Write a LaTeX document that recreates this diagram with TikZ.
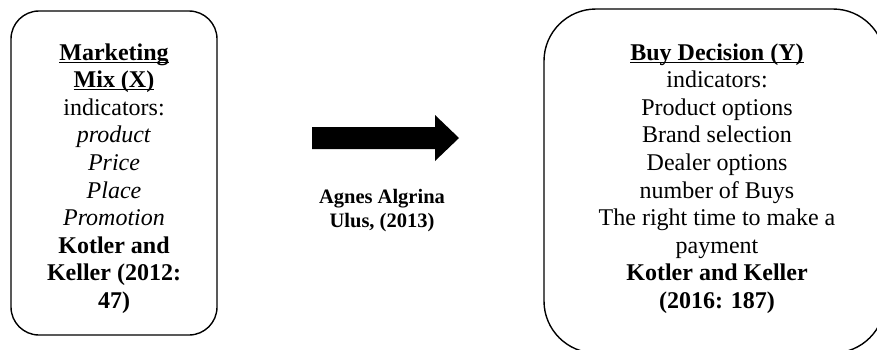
\documentclass[tikz,border=0pt]{standalone}
\usepackage{fontspec}
\setmainfont{Liberation Serif}
\newcommand\myul[1]{\setbox0\hbox{#1}\rlap{\rule[-2.8pt]{\wd0}{1.3pt}}\box0}
\begin{document}
\begin{tikzpicture}[x=1pt,y=-1pt,
  box/.style={draw=black, line width=1.4pt, rectangle, inner sep=0pt},
  txt/.style={anchor=base, inner sep=0pt, font=\fontsize{24}{27.6}\selectfont},
  lbl/.style={anchor=base, inner sep=0pt, font=\fontsize{20.5}{24}\selectfont\bfseries},
]
\useasboundingbox (0,0) rectangle (877,349);
\begin{scope}
  \clip (0,0) rectangle (877,349);
  \node[box, rounded corners=28pt, minimum width=206pt, minimum height=324pt] (mixbox) at (114,173) {};
  \node[box, rounded corners=52pt, minimum width=341pt, minimum height=344pt] (buybox) at (714.5,181) {};
\end{scope}
\node[txt] (mixtext) at (114,60) {\begin{tabular}[t]{@{}c@{}}
\myul{\textbf{Marketing}}\\
\myul{\textbf{Mix (X)}}\\
indicators:\\
\textit{product}\\
\textit{Price}\\
\textit{Place}\\
\textit{Promotion}\\
\textbf{Kotler and}\\
\textbf{Keller (2012:}\\
\textbf{47)}
\end{tabular}};
\node[txt] (buytext) at (717,60) {\begin{tabular}[t]{@{}c@{}}
\myul{\textbf{Buy Decision (Y)}}\\
indicators:\\
Product options\\
Brand selection\\
Dealer options\\
number of Buys\\
The right time to make a\\
payment\\
\textbf{Kotler and Keller}\\
\textbf{(2016: 187)}
\end{tabular}};
\coordinate (tail) at (312,138);
\coordinate (tip) at (459,138);
\fill[black] (tail) ++(0,-11) -- (435,127) -- (435,115) -- (tip) -- (435,161) -- (435,149) -- (312,149) -- cycle;
\node[lbl] (cite) at (382,203) {\begin{tabular}[t]{@{}c@{}}Agnes Algrina\\ Ulus, (2013)\end{tabular}};
\end{tikzpicture}
\end{document}
